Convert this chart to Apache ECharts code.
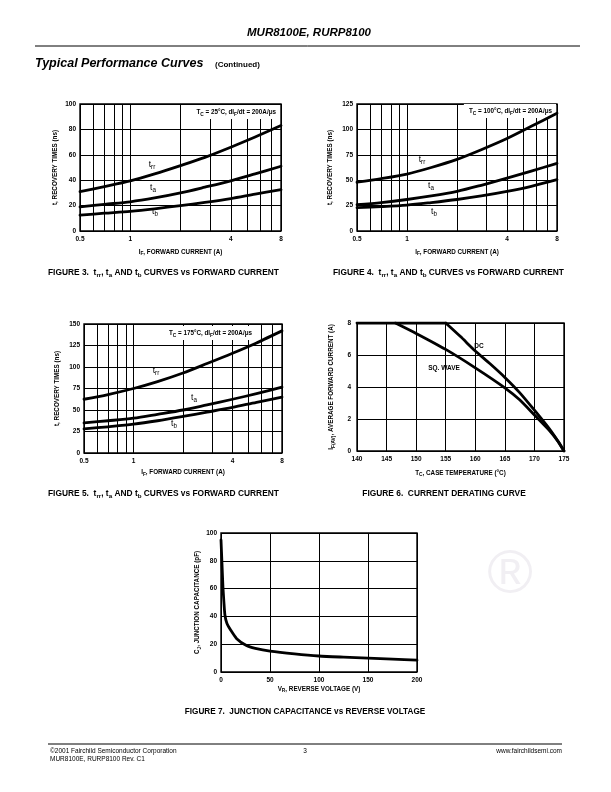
<!DOCTYPE html>
<html>
<head>
<meta charset="utf-8">
<script src="https://cdn.jsdelivr.net/npm/echarts@6.0.0/dist/echarts.min.js"></script>
<style>
html,body{margin:0;padding:0;background:#fff;}
#c{width:611px;height:792px;}
</style>
</head>
<body>
<div id="c"></div>
<script>
// ---------- data ----------
const forwardCurrent = [0.5, 0.7, 1, 1.4, 2, 2.8, 4, 5.6, 8];
const gridLinesIF = [0.5, 0.6, 0.7, 0.8, 0.9, 1, 2, 3, 4, 5, 6, 7, 8];
const tickLabelsIF = [0.5, 1, 4, 8];

// Figure 3: Tc = 25 C
const fig3Trr = [31, 35, 39.5, 45, 51.5, 58, 66, 74, 83];
const fig3Ta  = [19, 21, 23, 26, 30, 34.5, 39.5, 45, 51];
const fig3Tb  = [12.5, 14, 15.5, 17.5, 20, 22.5, 25.5, 29, 32.5];

// Figure 4: Tc = 100 C
const fig4Trr = [48, 51.5, 56, 62.5, 70.5, 80, 91, 103, 116];
const fig4Ta  = [26, 28, 31, 34.5, 39, 45, 52, 59, 66.5];
const fig4Tb  = [23, 24, 25.5, 28, 31, 34.5, 39, 44, 50.5];

// Figure 5: Tc = 175 C
const fig5Trr = [62.5, 68, 75, 83, 93, 104, 116, 128, 142];
const fig5Ta  = [35, 37.5, 40.5, 45, 50, 56, 62.5, 69, 76.5];
const fig5Tb  = [28, 30.5, 33.5, 37.5, 42.5, 47.5, 53, 59, 65];

// Figure 6: current derating
const flatTemp = [140, 155];
const flatAmps = [8, 8];
const dcTemp   = [155, 157.5, 160, 162.5, 165, 167.5, 170, 172.5, 174, 175];
const dcAmps   = [8, 7.15, 6.25, 5.45, 4.6, 3.65, 2.55, 1.4, 0.6, 0];
const sqTemp   = [146.5, 150, 155, 160, 165, 167.5, 170, 172.5, 174, 175];
const sqAmps   = [8, 7.35, 6.35, 5.2, 3.95, 3.2, 2.25, 1.3, 0.6, 0];

// Figure 7: junction capacitance
const revVoltage = [0, 1, 2, 3, 4, 6, 10, 16, 26, 35, 50, 75, 100, 125, 150, 175, 200];
const capacitance = [95, 78, 61, 50, 41, 35, 30, 24, 19, 17, 15, 13, 11.5, 10.7, 10, 9.2, 8.5];

// ---------- helpers ----------
const FONT = 'Liberation Sans, Arial, sans-serif';
const NARROW = 'Liberation Sans Narrow, Liberation Sans, Arial, sans-serif';
const subRich = {
  n: {fontFamily: FONT, fontWeight: 'bold', fontSize: 6.3, lineHeight: 9, color: '#000'},
  s: {fontFamily: FONT, fontWeight: 'bold', fontSize: 4.8, lineHeight: 5, verticalAlign: 'bottom', color: '#000'}
};
const labelStyle = {fontFamily: FONT, fontWeight: 'bold', fontSize: 6.5, color: '#000'};
const gridLine = {show: true, lineStyle: {color: '#000', width: 1}};

function pairs(xs, ys) { return xs.map((x, i) => [x, ys[i]]); }

function logX(gi, name, gap) {
  return {
    type: 'log', logBase: 10, gridIndex: gi, min: 0.5, max: 8,
    name: name, nameLocation: 'middle', nameGap: gap,
    nameTextStyle: {rich: subRich},
    axisLine: {show: false},
    axisTick: {show: false, customValues: gridLinesIF},
    axisLabel: Object.assign({customValues: tickLabelsIF, margin: 5}, labelStyle),
    splitLine: gridLine
  };
}
function valAxis(gi, min, max, interval, name, gap, margin) {
  return {
    type: 'value', gridIndex: gi, min: min, max: max, interval: interval,
    name: name, nameLocation: 'middle', nameGap: gap,
    nameTextStyle: {rich: subRich},
    axisLine: {show: false}, axisTick: {show: false},
    axisLabel: Object.assign({margin: margin}, labelStyle),
    splitLine: gridLine
  };
}
function curve(xi, yi, data, smooth) {
  return {
    type: 'line', xAxisIndex: xi, yAxisIndex: yi, data: data,
    smooth: smooth == null ? 0.3 : smooth,
    showSymbol: false, silent: true, z: 5,
    lineStyle: {color: '#000', width: 2.8, cap: 'round', join: 'round'}
  };
}
function gridBox(l, t, w, h) {
  return {left: l, top: t, width: w, height: h, show: true, borderColor: '#000', borderWidth: 1.4, backgroundColor: 'transparent'};
}
function txt(x, y, text, opts, z) {
  return {
    type: 'text', x: x, y: y, silent: true, z: z == null ? 100 : z,
    style: Object.assign({
      text: text, fill: '#000', font: 'bold 6.3px ' + FONT,
      align: 'left', verticalAlign: 'middle', textAlign: 'left', textVerticalAlign: 'middle'
    }, opts || {})
  };
}
const capRich = {
  s: {fontFamily: NARROW, fontWeight: 'bold', fontSize: 6.2, lineHeight: 6, verticalAlign: 'bottom', fill: '#000', color: '#000'},
  n: {fontFamily: NARROW, fontWeight: 'bold', fontSize: 8.4, lineHeight: 11, fill: '#000', color: '#000'}
};
function caption(x, y, text, align, size) {
  const r = JSON.parse(JSON.stringify(capRich));
  if (size) r.n.fontSize = size;
  return txt(x, y, text, {font: 'bold 8.4px ' + NARROW, rich: r, align: align || 'left', textAlign: align || 'left'});
}
const annRich = {
  n: {fontFamily: FONT, fontWeight: 'bold', fontSize: 6.3, lineHeight: 9, fill: '#000', color: '#000'},
  s: {fontFamily: FONT, fontWeight: 'bold', fontSize: 4.8, lineHeight: 5, verticalAlign: 'bottom', fill: '#000', color: '#000'}
};
function annot(x, y, text, align) {
  return txt(x, y, text, {
    font: 'bold 6.3px ' + FONT, rich: annRich, align: align || 'right', textAlign: align || 'right',
    backgroundColor: '#fff', padding: [3, 4, 2, 5]
  }, 1);
}
const crvRich = {
  n: {fontFamily: FONT, fontSize: 8.5, lineHeight: 10, fill: '#000', color: '#000'},
  s: {fontFamily: FONT, fontSize: 6.3, lineHeight: 6, verticalAlign: 'bottom', fill: '#000', color: '#000'}
};
function crvLabel(x, y, main, sub) {
  return txt(x, y, '{n|' + main + '}{s|' + sub + '}', {font: '8.5px ' + FONT, rich: crvRich, align: 'center', textAlign: 'center'});
}

const ifName = '{n|I}{s|F}{n|, FORWARD CURRENT (A)}';
const trName = '{n|t, RECOVERY TIMES (ns)}';
const tcTitle = (t) => '{n|T}{s|C}{n| = ' + t + '°C, dI}{s|F}{n|/dt = 200A/μs}';

const chart = echarts.init(document.getElementById('c'), null, {renderer: 'canvas'});
chart.setOption({
  backgroundColor: '#fff',
  animation: false,
  grid: [
    gridBox(80, 104, 201, 127),
    gridBox(357, 104, 200, 127),
    gridBox(84, 324, 198, 129),
    gridBox(357, 323, 207, 128),
    gridBox(221, 533, 196, 139)
  ],
  xAxis: [
    logX(0, ifName, 16.5),
    logX(1, ifName, 16.5),
    logX(2, ifName, 15),
    valAxis(3, 140, 175, 5, '{n|T}{s|C}{n|, CASE TEMPERATURE (°C)}', 17.5, 5),
    valAxis(4, 0, 200, 50, '{n|V}{s|R}{n|, REVERSE VOLTAGE (V)}', 12.5, 5)
  ],
  yAxis: [
    valAxis(0, 0, 100, 20, trName, 20.5, 4),
    valAxis(1, 0, 125, 25, trName, 22.5, 4),
    valAxis(2, 0, 150, 25, trName, 22, 4),
    valAxis(3, 0, 8, 2, '{n|I}{s|F(AV)}{n|, AVERAGE FORWARD CURRENT (A)}', 21, 6),
    valAxis(4, 0, 100, 20, '{n|C}{s|J}{n|, JUNCTION CAPACITANCE (pF)}', 12, 4)
  ],
  series: [
    curve(0, 0, pairs(forwardCurrent, fig3Trr)),
    curve(0, 0, pairs(forwardCurrent, fig3Ta)),
    curve(0, 0, pairs(forwardCurrent, fig3Tb)),
    curve(1, 1, pairs(forwardCurrent, fig4Trr)),
    curve(1, 1, pairs(forwardCurrent, fig4Ta)),
    curve(1, 1, pairs(forwardCurrent, fig4Tb)),
    curve(2, 2, pairs(forwardCurrent, fig5Trr)),
    curve(2, 2, pairs(forwardCurrent, fig5Ta)),
    curve(2, 2, pairs(forwardCurrent, fig5Tb)),
    curve(3, 3, pairs(flatTemp, flatAmps), false),
    curve(3, 3, pairs(dcTemp, dcAmps), 0.2),
    curve(3, 3, pairs(sqTemp, sqAmps), 0.2),
    curve(4, 4, pairs(revVoltage, capacitance), 0.2)
  ],
  graphic: [
    // watermark registered mark
    txt(510, 576, '®', {font: '62px ' + FONT, fill: '#f1eff3', align: 'center', textAlign: 'center'}, 0),
    // header
    txt(309, 33, 'MUR8100E, RURP8100', {font: 'italic bold 11.5px ' + FONT, align: 'center', textAlign: 'center'}),
    {type: 'line', silent: true, shape: {x1: 35, y1: 46, x2: 580, y2: 46}, style: {stroke: '#000', lineWidth: 1}},
    txt(35, 64, 'Typical Performance Curves', {font: 'italic bold 12.5px ' + FONT}),
    txt(215, 65, '(Continued)', {font: 'bold 8px ' + FONT}),
    // annotations
    annot(280, 112, tcTitle('25')),
    annot(556, 111, tcTitle('100')),
    annot(256, 333, tcTitle('175')),
    crvLabel(152, 165, 't', 'rr'),
    crvLabel(153, 188, 't', 'a'),
    crvLabel(155, 212, 't', 'b'),
    crvLabel(422, 160, 't', 'rr'),
    crvLabel(431, 186, 't', 'a'),
    crvLabel(434, 212, 't', 'b'),
    crvLabel(156, 371, 't', 'rr'),
    crvLabel(194, 398, 't', 'a'),
    crvLabel(174, 424, 't', 'b'),
    txt(479, 346, 'DC', {font: 'bold 6.5px ' + FONT, align: 'center', textAlign: 'center'}),
    txt(444, 368, 'SQ. WAVE', {font: 'bold 6.5px ' + FONT, align: 'center', textAlign: 'center'}),
    // captions
    caption(48, 273, '{n|FIGURE 3.  t}{s|rr}{n|, t}{s|a}{n| AND t}{s|b}{n| CURVES vs FORWARD CURRENT}'),
    caption(333, 273, '{n|FIGURE 4.  t}{s|rr}{n|, t}{s|a}{n| AND t}{s|b}{n| CURVES vs FORWARD CURRENT}'),
    caption(48, 494, '{n|FIGURE 5.  t}{s|rr}{n|, t}{s|a}{n| AND t}{s|b}{n| CURVES vs FORWARD CURRENT}'),
    caption(444, 494, '{n|FIGURE 6.  CURRENT DERATING CURVE}', 'center'),
    caption(305, 712, '{n|FIGURE 7.  JUNCTION CAPACITANCE vs REVERSE VOLTAGE}', 'center', 8.2),
    // footer
    {type: 'line', silent: true, shape: {x1: 48, y1: 744, x2: 562, y2: 744}, style: {stroke: '#000', lineWidth: 1}},
    txt(50, 751, '©2001 Fairchild Semiconductor Corporation', {font: '6.5px ' + FONT}),
    txt(50, 759, 'MUR8100E, RURP8100 Rev. C1', {font: '6.5px ' + FONT}),
    txt(305, 751, '3', {font: '6.5px ' + FONT, align: 'center', textAlign: 'center'}),
    txt(562, 751, 'www.fairchildsemi.com', {font: '6.5px ' + FONT, align: 'right', textAlign: 'right'})
  ]
});
</script>
</body>
</html>
